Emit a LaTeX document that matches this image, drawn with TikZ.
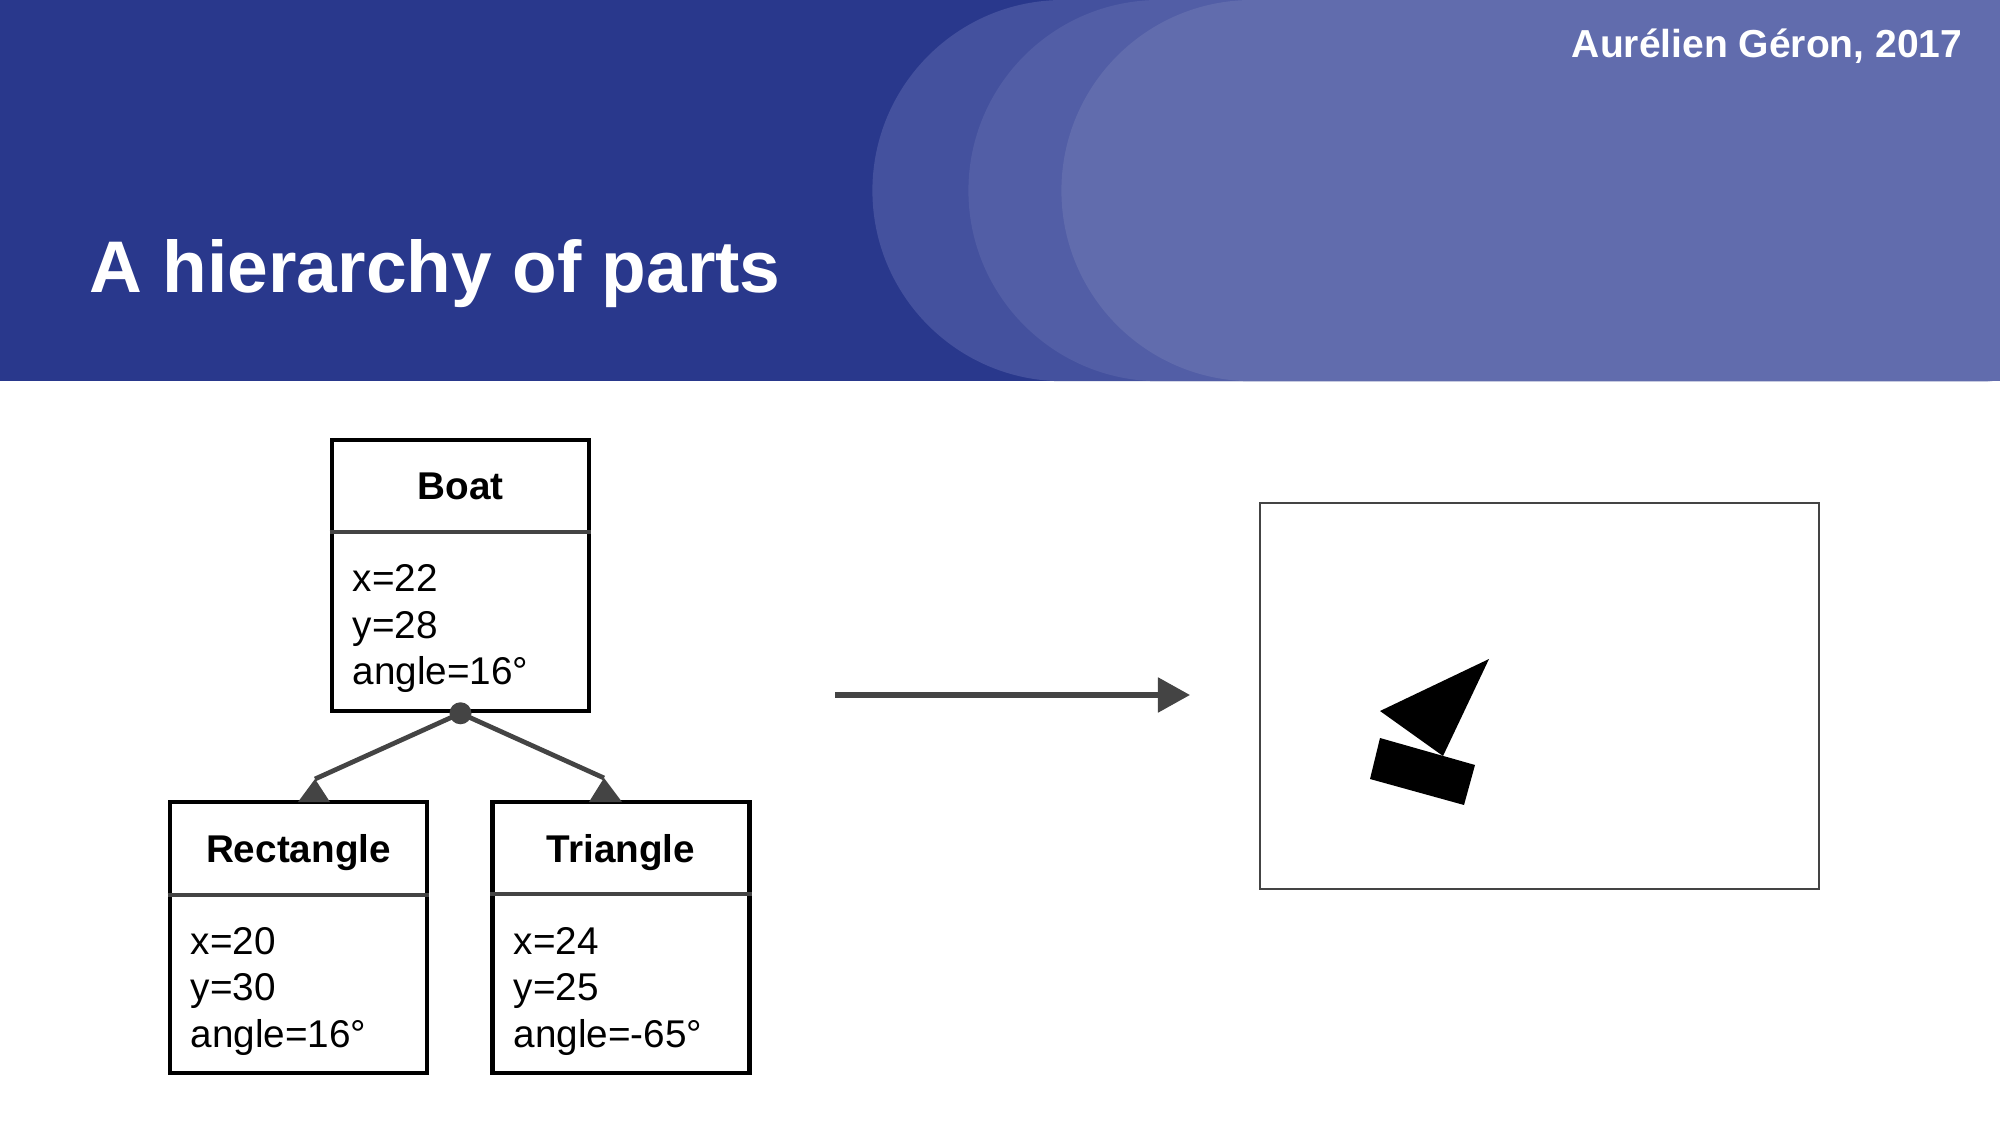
\documentclass[tikz,border=0pt]{standalone}
\usepackage{fontspec}
\setmainfont{Liberation Sans}
\usetikzlibrary{arrows.meta}

\definecolor{headdark}{RGB}{41,56,140}
\definecolor{headmid}{RGB}{68,81,158}
\definecolor{headlight}{RGB}{82,94,166}
\definecolor{headpale}{RGB}{97,108,173}
\definecolor{linegray}{RGB}{68,68,68}

\tikzset{
  classbox/.style={draw=black, line width=1.25pt, minimum width=2.57cm, minimum height=2.71cm, inner sep=0pt},
  classname/.style={font=\fontsize{11}{13}\selectfont\bfseries, anchor=base, inner sep=0pt},
  attr/.style={font=\fontsize{11}{13}\selectfont, anchor=base west, inner sep=0pt},
  divider/.style={linegray, line width=1.1pt},
  conn/.style={linegray, line width=1.35pt},
}

\begin{document}
\begin{tikzpicture}[x=0.01cm, y=-0.01cm]

	\useasboundingbox (0,0) rectangle (2000,1125);
	\fill[white] (-10,-10) rectangle (2010,1135);

	% header band
	\fill[headdark] (-10,-10) rectangle (2010,381);
	\fill[headmid] (2010,-10) -- (1063,-10) -- (1063,0) arc[start angle=90, end angle=270, radius=1.905cm] -- (2010,381) -- cycle;
	\fill[headlight] (2010,-10) -- (1159,-10) -- (1159,0) arc[start angle=90, end angle=270, radius=1.905cm] -- (2010,381) -- cycle;
	\fill[headpale] (2010,-10) -- (1252,-10) -- (1252,0) arc[start angle=90, end angle=270, radius=1.905cm] -- (2010,381) -- cycle;

	\node[white, anchor=base west, inner sep=0pt, font=\fontsize{20.8}{25}\selectfont\bfseries] (title) at (89,293) {A hierarchy of parts};
	\node[white, anchor=base east, inner sep=0pt, font=\fontsize{11.1}{13}\selectfont\bfseries] (author) at (1963,58) {Aurélien Géron, 2017};

	% class boxes
	\node[classbox] (boat) at (460.5,575.5) {};
	\node[classname] (boat-name) at (460.5,500) {Boat};
	\draw[divider] ([yshift=-0.94cm]boat.north west) -- ([yshift=-0.94cm]boat.north east);
	\foreach \txt [count=\i] in {x=22, y=28, angle=16°}
		\node[attr] (boat-attr-\i) at (352,{592+46.5*(\i-1)}) {\txt};

	\node[classbox] (rect) at (298.5,937.5) {};
	\node[classname] (rect-name) at (298.5,862) {Rectangle};
	\draw[divider] ([yshift=-0.95cm]rect.north west) -- ([yshift=-0.95cm]rect.north east);
	\foreach \txt [count=\i] in {x=20, y=30, angle=16°}
		\node[attr] (rect-attr-\i) at (190,{954+46.5*(\i-1)}) {\txt};

	\node[classbox] (tri) at (621,937.5) {};
	\node[classname] (tri-name) at (621,862) {Triangle};
	\draw[divider] ([yshift=-0.94cm]tri.north west) -- ([yshift=-0.94cm]tri.north east);
	\foreach \txt [count=\i] in {x=24, y=25, angle=-65°}
		\node[attr] (tri-attr-\i) at (513,{954+46.5*(\i-1)}) {\txt};

	% composition links
	\coordinate (rect-tip) at (315,779);
	\coordinate (tri-tip) at (604,778);
	\draw[conn] (boat.south) -- (rect-tip);
	\draw[conn] (boat.south) -- (tri-tip);
	\fill[linegray] (rect-tip) -- ++(-17,23) -- ++(32,0) -- cycle;
	\fill[linegray] (tri-tip) -- ++(-15,24) -- ++(33,0) -- cycle;
	\fill[linegray] (boat.south) circle [radius=0.11cm];

	% result
	\node[draw=linegray, line width=0.6pt, minimum width=5.59cm, minimum height=3.86cm, inner sep=0pt] (canvas) at (1539.5,696) {};
	\coordinate (arrow-start) at (835,695);
	\coordinate (arrow-end) at (1190,695);
	\draw[linegray, line width=1.5pt, -{Triangle[length=0.32cm, width=0.34cm]}] (arrow-start) -- (arrow-end);

	\fill (1489,659) -- (1380,711) -- (1443,756) -- cycle;
	\fill (1380,738) -- (1475,765) -- (1464,805) -- (1370,779) -- cycle;

\end{tikzpicture}
\end{document}
